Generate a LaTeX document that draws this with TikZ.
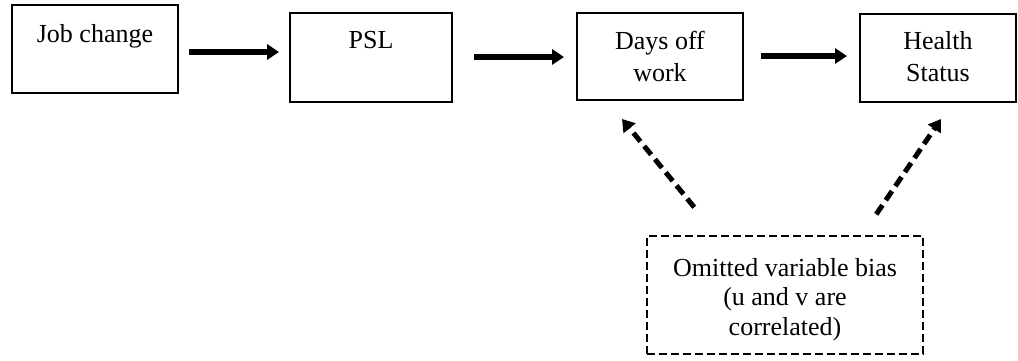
\documentclass[tikz,border=0pt]{standalone}
\usepackage{fontspec}
\setmainfont{Liberation Serif}
\usetikzlibrary{arrows.meta,calc}
\begin{document}
\begin{tikzpicture}[x=1pt,y=-1pt,
  box/.style={draw,line width=2pt,inner sep=0pt},
  lbl/.style={anchor=north,align=center,font=\fontsize{26}{32}\selectfont,inner sep=0pt},
  arr/.style={line width=5.5pt,-{Triangle[length=12pt,width=15pt]}},
  darr/.style={line width=5pt,dash pattern=on 11pt off 6pt,-{Triangle[length=12pt,width=15pt]}}]
\useasboundingbox (0,0) rectangle (1018,360);
\node[box,minimum width=166pt,minimum height=88pt,label={[lbl,yshift=-20pt]north:Job change}] (job) at (95,49) {};
\node[box,minimum width=162pt,minimum height=89pt,label={[lbl,yshift=-19pt]north:PSL}] (psl) at (371,57.5) {};
\node[box,minimum width=166pt,minimum height=87pt,label={[lbl,yshift=-19pt]north:Days off\\work}] (days) at (660,56.5) {};
\node[box,minimum width=156pt,minimum height=88pt,label={[lbl,yshift=-18pt]north:Health\\Status}] (health) at (938,58) {};
\node[draw,line width=1.5pt,dash pattern=on 8pt off 4pt,minimum width=276pt,minimum height=118pt,
  label={[lbl,yshift=-23pt,font=\fontsize{26}{29.5}\selectfont]north:Omitted variable bias\\(u and v are\\correlated)}] (omit) at (785,295) {};
\draw[arr] (job.east |- 0,52) ++(10,0) -- ([xshift=-10pt]psl.west |- 0,52);
\draw[arr] (psl.east |- 0,57) ++(21,0) -- ([xshift=-12pt]days.west |- 0,57);
\draw[arr] (days.east |- 0,56) ++(17,0) -- ([xshift=-12pt]health.west |- 0,56);
\draw[darr] ($(omit.north west)+(48,-28)$) -- ($(days.south west)+(46,18)$);
\draw[darr] ($(omit.north west)+(230,-21)$) -- ($(health.south west)+(82,16)$);
\end{tikzpicture}
\end{document}
